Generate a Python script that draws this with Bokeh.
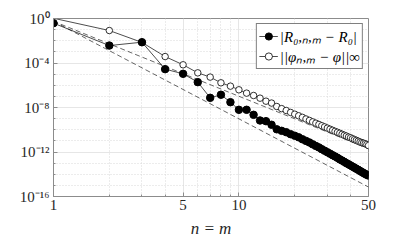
from bokeh.plotting import figure
from bokeh.models import (FixedTicker, CustomJSTickFormatter, Legend, LegendItem,
                          Range1d)
from bokeh.embed import file_html
from bokeh.resources import INLINE

n_vals = list(range(1, 51))

R_err = [3.8e-1, 3.7e-3, 7.4e-3, 2.8e-5, 1.07e-5, 1.9e-6, 7.4e-8, 1.4e-7, 3.0e-8, 6.2e-9,
         6.2e-9, 2.2e-9, 6.8e-10, 5.9e-10, 2.8e-10, 1.1e-10, 8.0e-11, 6.0e-11, 4.0e-11, 2.9e-11,
         2.1e-11, 1.4e-11, 1.0e-11, 7.2e-12, 4.9e-12, 3.5e-12, 2.6e-12, 1.8e-12, 1.3e-12, 9.5e-13,
         7.1e-13, 5.2e-13, 4.0e-13, 3.0e-13, 2.2e-13, 1.7e-13, 1.3e-13, 1.0e-13, 7.9e-14, 6.2e-14,
         4.9e-14, 3.9e-14, 3.1e-14, 2.5e-14, 2.0e-14, 1.6e-14, 1.3e-14, 1.07e-14, 8.9e-15, 7.6e-15]

phi_err = [1.05e0, 8.3e-2, 7.1e-3, 3.8e-4, 6.9e-5, 1.3e-5, 5.4e-6, 1.66e-6, 8.3e-7, 3.9e-7,
           1.95e-7, 1.2e-7, 6.9e-8, 3.7e-8, 2.5e-8, 1.23e-8, 7.9e-9, 5.4e-9, 3.6e-9, 2.5e-9,
           1.8e-9, 1.3e-9, 9.3e-10, 6.9e-10, 5.1e-10, 3.9e-10, 3.0e-10, 2.3e-10, 1.8e-10, 1.4e-10,
           1.12e-10, 8.9e-11, 7.2e-11, 5.9e-11, 4.8e-11, 3.9e-11, 3.2e-11, 2.7e-11, 2.2e-11, 1.9e-11,
           1.55e-11, 1.3e-11, 1.1e-11, 9.3e-12, 7.9e-12, 6.9e-12, 6.2e-12, 5.5e-12, 4.7e-12, 3.8e-12]

ref_n = [1, 50]
ref_upper = [0.56, 2.0e-12]
ref_lower = [0.56, 7.1e-16]

x_ticks = [1, 5, 10, 50]
x_minor = [2, 3, 4, 6, 7, 8, 9, 20, 30, 40]
y_ticks = [1e-16, 1e-12, 1e-8, 1e-4, 1e0]
y_minor = [10.0 ** (-k) for k in range(0, 17)]

label_R = "|R\u2080,\u2099,\u2098 \u2212 R\u2080|"
label_phi = "||\u03c6\u2099,\u2098 \u2212 \u03c6||\u221e"

FONT = "Liberation Serif"

p = figure(frame_width=315, frame_height=178,
           x_axis_type="log", y_axis_type="log",
           x_range=Range1d(1, 50), y_range=Range1d(1e-16, 1),
           output_backend="svg", toolbar_location=None,
           min_border_left=53, min_border_right=31, min_border_top=18, min_border_bottom=44)

p.background_fill_color = "white"
p.border_fill_color = "white"
p.outline_line_color = "#8c8c8c"
p.outline_line_width = 1

for ax in (p.xaxis[0], p.yaxis[0]):
    ax.axis_line_color = "#8c8c8c"
    ax.major_tick_line_color = "#8c8c8c"
    ax.minor_tick_line_color = "#8c8c8c"
    ax.major_tick_in = 4
    ax.major_tick_out = 0
    ax.minor_tick_in = 2
    ax.minor_tick_out = 0
    ax.major_label_text_font = FONT
    ax.major_label_text_font_size = "15px"
    ax.major_label_text_color = "#262626"

p.xaxis.ticker = FixedTicker(ticks=x_ticks, minor_ticks=x_minor)
p.yaxis.ticker = FixedTicker(ticks=y_ticks, minor_ticks=y_minor)
p.xaxis.major_label_overrides = {1: "1", 5: "5", 10: "10", 50: "50"}
p.xaxis.major_label_standoff = 3
p.yaxis.major_label_standoff = 4

p.yaxis.formatter = CustomJSTickFormatter(code="""
const sup = {"-":"\u207b","0":"\u2070","1":"\u00b9","2":"\u00b2","3":"\u00b3","4":"\u2074",
             "5":"\u2075","6":"\u2076","7":"\u2077","8":"\u2078","9":"\u2079"};
const e = Math.round(Math.log10(tick));
return "10" + String(e).split("").map(c => sup[c]).join("");
""")

p.xaxis.axis_label = "n = m"
p.xaxis.axis_label_text_font = FONT
p.xaxis.axis_label_text_font_style = "italic"
p.xaxis.axis_label_text_font_size = "17px"
p.xaxis.axis_label_text_color = "#262626"
p.xaxis.axis_label_standoff = 6

p.xgrid.ticker = FixedTicker(ticks=x_ticks, minor_ticks=x_minor)
p.ygrid.ticker = FixedTicker(ticks=y_ticks, minor_ticks=y_minor)
p.grid.grid_line_color = "#e6e6e6"
p.grid.grid_line_width = 1
p.grid.minor_grid_line_color = "#d9d9d9"
p.grid.minor_grid_line_dash = "1 2"
p.grid.minor_grid_line_width = 1

# reference slopes
p.line(ref_n, ref_upper, line_color="black", line_width=0.6, line_dash="5 3")
p.line(ref_n, ref_lower, line_color="black", line_width=0.6, line_dash="5 3")

# open circles series (markers outside the axes are not drawn, like MATLAB)
phi_n_in = [n for n, v in zip(n_vals, phi_err) if v <= 1]
phi_in = [v for v in phi_err if v <= 1]
l2 = p.line(n_vals, phi_err, line_color="black", line_width=0.7)
s2 = p.scatter(phi_n_in, phi_in, marker="circle", size=6.5, line_color="black",
               line_width=0.8, fill_color="white")

l1 = p.line(n_vals, R_err, line_color="black", line_width=0.7)
s1 = p.scatter(n_vals, R_err, marker="circle", size=7.5, line_color="black",
               fill_color="black")

legend = Legend(items=[LegendItem(label=label_R, renderers=[l1, s1]),
                       LegendItem(label=label_phi, renderers=[l2, s2])],
                location="top_right")
legend.label_text_font = FONT
legend.label_text_font_style = "italic"
legend.label_text_font_size = "15px"
legend.label_text_color = "black"
legend.border_line_color = "black"
legend.border_line_width = 0.8
legend.background_fill_alpha = 1
legend.padding = 2
legend.spacing = 0
legend.margin = 5
legend.glyph_width = 19
legend.glyph_height = 18
legend.label_height = 18
legend.label_standoff = 2
p.add_layout(legend)

open("out.html", "w").write(file_html(p, INLINE))
